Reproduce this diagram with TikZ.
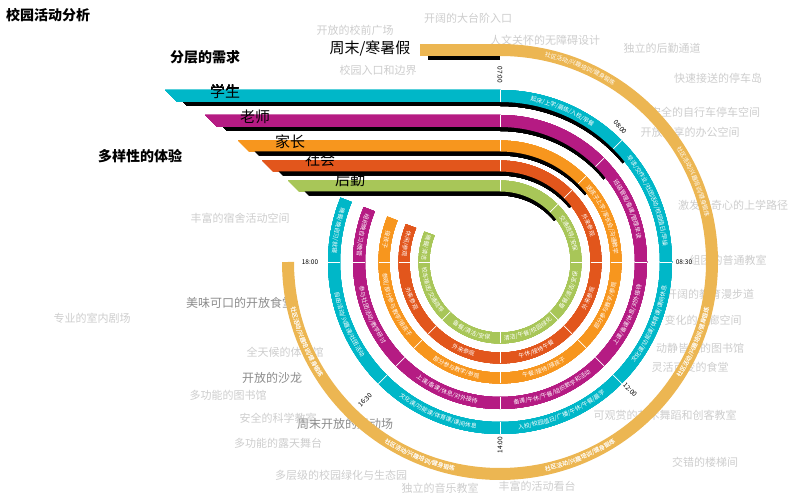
\documentclass[tikz,border=0pt]{standalone}
\usepackage{fontspec}
\setmainfont{Noto Sans CJK SC}
\usetikzlibrary{decorations.text}
\definecolor{cy}{RGB}{0,183,200}
\definecolor{mg}{RGB}{181,27,131}
\definecolor{og}{RGB}{247,150,30}
\definecolor{rd}{RGB}{226,86,28}
\definecolor{gn}{RGB}{168,198,88}
\definecolor{wk}{RGB}{236,182,82}
\definecolor{bg}{RGB}{205,205,205}
\newcommand\cwseg[4]{\path[decorate,decoration={text along path,text align=center,raise=-2.1pt,text={|\color{white}\fontsize{5.9}{6}\selectfont|#4}}] ({500+#1*cos(#2)},{236+#1*sin(#2)}) arc[start angle=#2,end angle=#3,radius=#1];}
\newcommand\ring[5]{%
 \fill[black] (#3+10,{236+#2+#4/2-4}) -- (500,{236+#2+#4/2-4}) -- (500,{236+#2-#4/2-4}) -- (#3+10+#4,{236+#2-#4/2-4}) -- cycle;
 \draw[black,line width=#4] (500,{236+#2-4}) arc[start angle=90,end angle=40,radius=#2];
 \fill[#1] (#3,{236+#2+#4/2}) -- (500,{236+#2+#4/2}) -- (500,{236+#2-#4/2}) -- (#3+#4,{236+#2-#4/2}) -- cycle;
 \draw[#1,line width=#4] (500,{236+#2}) arc[start angle=90,end angle=#5,radius=#2];
 \foreach \d in {45,0,-45,-90,-135,180}
  \draw[white,line width=0.7pt] ({500+(#2-#4/2)*cos(\d)},{236+(#2-#4/2)*sin(\d)}) -- ({500+(#2+#4/2)*cos(\d)},{236+(#2+#4/2)*sin(\d)});
 \draw[white,line width=0.5pt] (500,{236+#2-#4/2}) -- (500,{236+#2+#4/2});
}
\tikzset{gl/.style={text=bg,font=\fontsize{11}{12}\selectfont},
 gd/.style={text=black!45,font=\fontsize{12}{13}\selectfont},
 tl/.style={font=\fontsize{6.5}{7}\selectfont},
 hd/.style={font=\bfseries\fontsize{14}{15}\selectfont},
 cat/.style={font=\fontsize{15}{16}\selectfont}}
\begin{document}
\begin{tikzpicture}[x=1pt,y=1pt]
\useasboundingbox (0,0) rectangle (800,498);
\node[gl] (g1) at (355,468) {开放的校前广场};
\node[gl] (g2) at (468,480) {开阔的大台阶入口};
\node[gl] (g3) at (545,458) {人文关怀的无障碍设计};
\node[gl] (g4) at (662,450) {独立的后勤通道};
\node[gl] (g5) at (378,428) {校园入口和边界};
\node[gl] (g6) at (718,420) {快速接送的停车岛};
\node[gl] (g7) at (705,386) {安全的自行车停车空间};
\node[gl] (g8) at (690,366) {开放共享的办公空间};
\node[gl] (g9) at (733,293) {激发好奇心的上学路径};
\node[gl] (g10) at (240,280) {丰富的宿舍活动空间};
\node[gl] (g11) at (728,238) {组团的普通教室};
\node[gl] (g12) at (710,204) {开阔的教育漫步道};
\node[gl] (g13) at (703,178) {变化的走廊空间};
\node[gd] (g14) at (240,195) {美味可口的开放食堂};
\node[gl] (g15) at (92,180) {专业的室内剧场};
\node[gl] (g16) at (700,150) {动静皆宜的图书馆};
\node[gl] (g17) at (690,131) {灵活可变的食堂};
\node[gl] (g18) at (285,146) {全天候的体育馆};
\node[gd] (g19) at (272,120) {开放的沙龙};
\node[gl] (g20) at (228,103) {多功能的图书馆};
\node[gl] (g21) at (278,80) {安全的科学教室};
\node[gd] (g22) at (345,74) {周末开放的运动场};
\node[gl] (g23) at (665,83) {可观赏的艺术舞蹈和创客教室};
\node[gl] (g24) at (278,55) {多功能的露天舞台};
\node[gl] (g25) at (705,36) {交错的楼梯间};
\node[gl] (g26) at (341,23) {多层级的校园绿化与生态园};
\node[gl] (g27) at (440,10) {独立的音乐教室};
\node[gl] (g28) at (537,12) {丰富的活动看台};
\node[hd] (t0) at (48,483) {校园活动分析};
\node[hd] (t1) at (205,441) {分层的需求};
\node[hd] (t2) at (140,342) {多样性的体验};
\fill[black] (428,{448+6-4}) -- (500,{448+6-4}) -- (500,{448-6-4}) -- (428,{448-6-4}) -- cycle;
\fill[wk] (420,454) -- (500,454) -- (500,442) -- (420,442) -- cycle;
\draw[wk,line width=12pt] (500,448) arc[start angle=90,end angle=-180,radius=212];
\node[cat] (wt) at (370,450) {周末/寒暑假};
\foreach \a/\b in {90/45,45/0} \cwseg{212}{\a}{\b}{社区活动/兴趣培训/健身锻炼}
\foreach \a/\b in {-45/0,-90/-45,-135/-90,-180/-135} \cwseg{212}{\a}{\b}{社区活动/兴趣培训/健身锻炼}
\ring{cy}{166}{165}{12}{-202}
\ring{mg}{141}{205}{12}{-202}
\ring{og}{116}{238}{11}{-202}
\ring{rd}{96}{262}{11}{-202}
\ring{gn}{76}{288}{11}{-202}
\node[cat] (c1) at (225,406) {学生};
\node[cat] (c2) at (255,381) {老师};
\node[cat] (c3) at (290,356) {家长};
\node[cat] (c4) at (320,338) {社会};
\node[cat] (c5) at (350,318) {后勤};
\cwseg{166}{90}{45}{起床/上学/晨练/入校/早餐}
\cwseg{166}{45}{0}{早读/交作业/社团活动/校园值日/早操}
\cwseg{166}{-45}{0}{文化课/功能课/体育课/课间休息}
\cwseg{166}{-90}{-45}{入校/校园值日/广播/午休/午餐/晨学}
\cwseg{166}{-135}{-90}{文化课/功能课/体育课/课间休息}
\cwseg{166}{-180}{-135}{自由活动/兴趣课/社团活动}
\cwseg{166}{158}{180}{晚餐/晚自习/就寝}
\cwseg{141}{45}{0}{班级管理/备课/管理早读}
\cwseg{141}{-45}{0}{上课/备课/休息/对外接待}
\cwseg{141}{-90}{-45}{备课/午休/午餐/组织数学和活动}
\cwseg{141}{-135}{-90}{上课/备课/休息/对外接待}
\cwseg{141}{-180}{-135}{参与社团活动/教学研讨}
\cwseg{141}{158}{180}{组织晚自习/晚管}
\cwseg{116}{45}{0}{送孩子上学/家长会/沟通教学}
\cwseg{116}{-45}{0}{部分参与教学/参观}
\cwseg{116}{-90}{-45}{午餐/接待/接孩子}
\cwseg{116}{-135}{-90}{部分参与教学/参观}
\cwseg{116}{-180}{-135}{参观/部分参与教学/接孩子}
\cwseg{116}{158}{180}{接孩子}
\cwseg{96}{45}{0}{外来参观}
\cwseg{96}{-45}{0}{外来参观}
\cwseg{96}{-90}{-45}{午休/接待午餐}
\cwseg{96}{-135}{-90}{外来参观}
\cwseg{96}{-180}{-135}{外来参观}
\cwseg{96}{158}{180}{休闲/参观}
\cwseg{76}{45}{0}{交通疏导/安保}
\cwseg{76}{-45}{0}{备餐/清洁/安保}
\cwseg{76}{-90}{-45}{清洁/午餐/校园绿化}
\cwseg{76}{-135}{-90}{备餐/清洁/安保}
\cwseg{76}{-180}{-135}{校车接送/交通疏导}
\cwseg{76}{158}{180}{晚餐/清洁}
\node[tl,rotate=-90] (h1) at (500,423) {07:00};
\node[tl,rotate=-50] (h2) at (620,371) {08:00};
\node[tl] (h3) at (684,236) {08:30};
\node[tl,rotate=-45] (h4) at (630,108) {12:00};
\node[tl,rotate=90] (h5) at (500,53) {14:00};
\node[tl,rotate=45] (h6) at (365,98) {16:30};
\node[tl] (h7) at (310,236) {18:00};
\end{tikzpicture}
\end{document}
